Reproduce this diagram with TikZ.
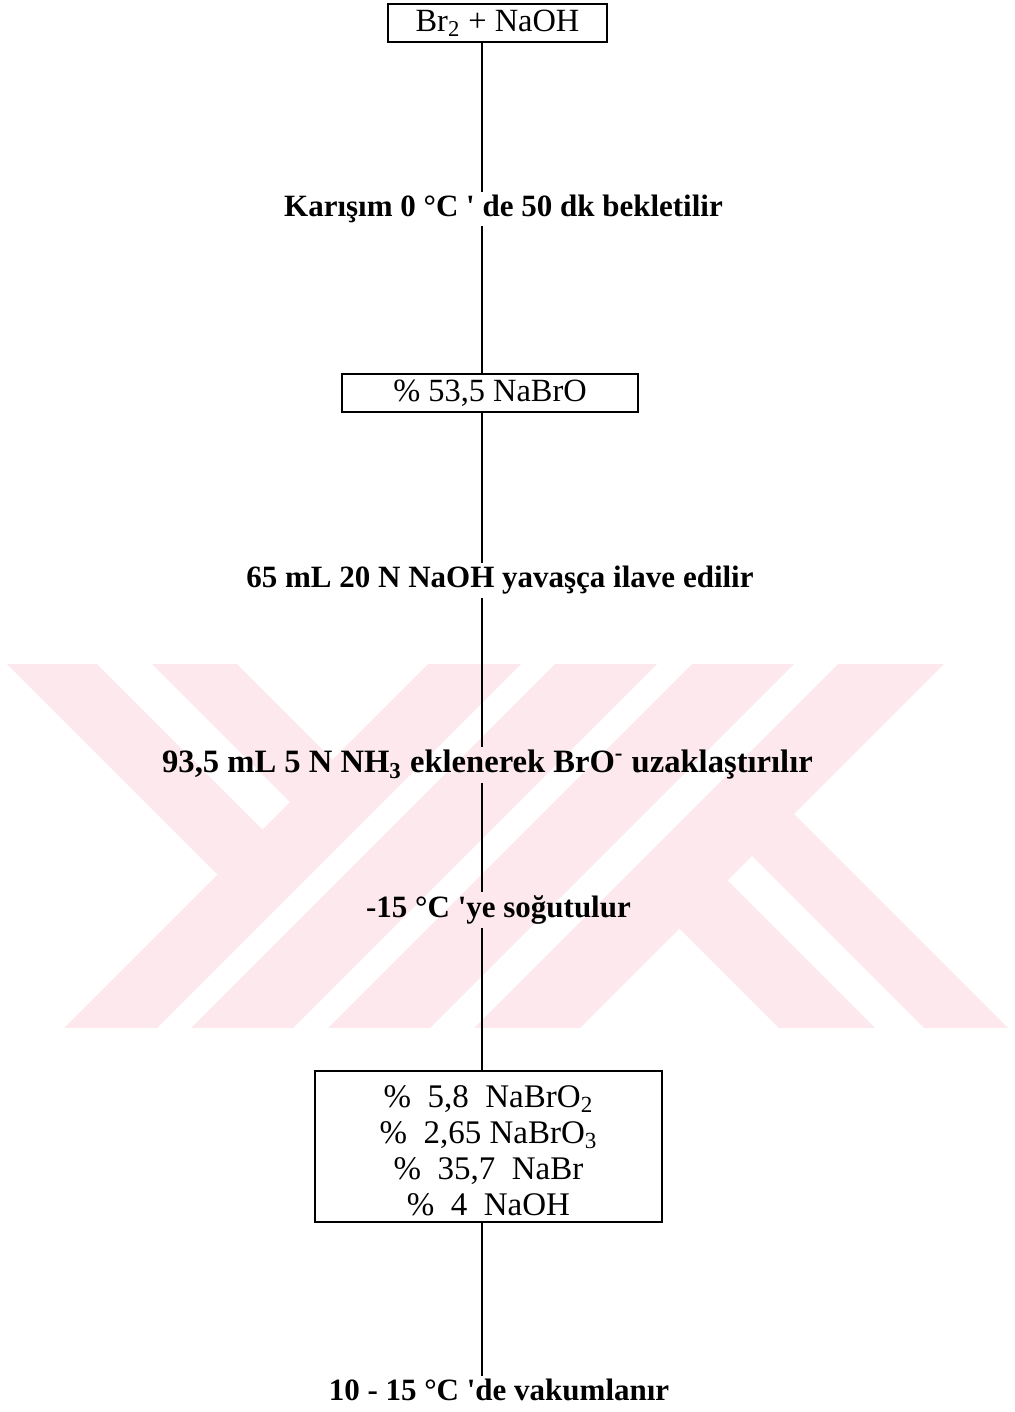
\documentclass[tikz,border=0pt]{standalone}
\usepackage{fontspec}
\setmainfont{Liberation Serif}
\usepackage{tikz}
\usetikzlibrary{positioning}

\definecolor{wmpink}{RGB}{253,233,237}
\newcommand{\boxfont}{\fontsize{16.2}{18}\selectfont}
\newcommand{\stagefont}{\bfseries\fontsize{15.5}{18}\selectfont}

\begin{document}
\begin{tikzpicture}[
    x=0.5pt, y=-0.5pt,
    box/.style={rectangle, draw, line width=1.2pt, inner sep=0pt, align=center, font=\boxfont},
    stage/.style={inner sep=1.5pt, font=\stagefont},
    link/.style={line width=1pt}
]
    \useasboundingbox (0,0) rectangle (1015,1412);

    % watermark in the background
    \begin{scope}
        \clip (0,664) rectangle (1015,1027);
        \fill[wmpink] (1092,0) -- (1185,0) -- (85,1100) -- (-8,1100) -- cycle;
        \fill[wmpink] (1219,0) -- (1321,0) -- (221,1100) -- (119,1100) -- cycle;
        \fill[wmpink] (1356,0) -- (1458,0) -- (358,1100) -- (256,1100) -- cycle;
        \fill[wmpink] (1502,0) -- (1608,0) -- (508,1100) -- (402,1100) -- cycle;
        \fill[wmpink] (217.5,874.5) -- (262.5,829.5) -- (16.5,583.5) -- (-28.5,628.5) -- cycle;
        \fill[wmpink] (290,802) -- (332.5,759.5) -- (86.5,513.5) -- (44,556) -- cycle;
        \fill[wmpink] (679.5,928.5) -- (727.5,880.5) -- (1023.5,1176.5) -- (975.5,1224.5) -- cycle;
        \fill[wmpink] (752,856) -- (794,814) -- (1090,1110) -- (1048,1152) -- cycle;
    \end{scope}

    \coordinate (spine) at (482,0);

    \node[box, minimum width=109.5pt, minimum height=19pt] (start) at (497.5,23) {Br\textsubscript{2} + NaOH};
    \node[stage] (mix) at (503.5,209) {Karışım 0 °C \textquotesingle\ de 50 dk bekletilir};
    \node[box, minimum width=148pt, minimum height=19pt] (hypo) at (490,393) {\% 53,5 NaBrO};
    \node[stage] (base) at (500,580) {65 mL 20 N NaOH yavaşça ilave edilir};
    \node[stage, font=\bfseries\fontsize{16.3}{18}\selectfont] (ammonia) at (487.5,765) {93,5 mL 5 N NH\textsubscript{3} eklenerek BrO\textsuperscript{-} uzaklaştırılır};
    \node[stage] (cool) at (498.5,910) {-15 °C \textquotesingle ye soğutulur};
    \node[box, minimum width=173.5pt, minimum height=75.5pt, font=\fontsize{16.5}{18}\selectfont] (product) at (488.5,1146.5)
        {\rule{0pt}{15pt}\%\hspace{.5em}5,8\hspace{.5em}NaBrO\textsubscript{2}\\
         \%\hspace{.5em}2,65 NaBrO\textsubscript{3}\\
         \%\hspace{.5em}35,7\hspace{.5em}NaBr\\
         \%\hspace{.5em}4\hspace{.5em}NaOH};
    \node[stage] (vacuum) at (499,1390) {10 - 15 °C \textquotesingle de vakumlanır};

    \draw[link] (start.south -| spine) -- (mix.north -| spine);
    \draw[link] (mix.south -| spine) -- (hypo.north -| spine);
    \draw[link] (hypo.south -| spine) -- (base.north -| spine);
    \draw[link] (base.south -| spine) -- (ammonia.north -| spine);
    \draw[link] (ammonia.south -| spine) -- (cool.north -| spine);
    \draw[link] (cool.south -| spine) -- (product.north -| spine);
    \draw[link] (product.south -| spine) -- (vacuum.north -| spine);
\end{tikzpicture}
\end{document}
